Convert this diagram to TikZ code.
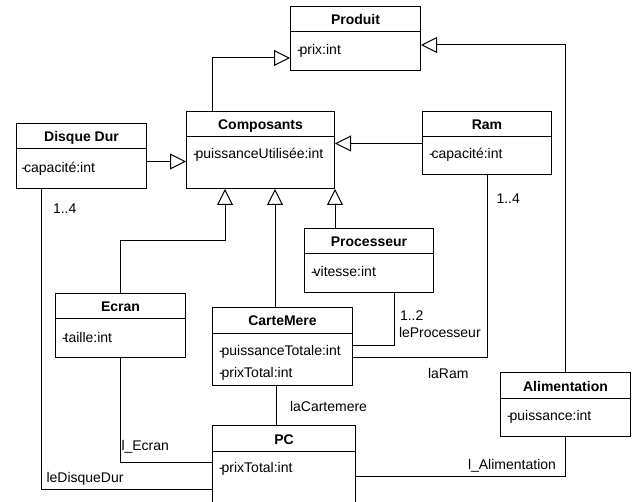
\documentclass[tikz,border=0pt]{standalone}
\usepackage{fontspec}
\setmainfont{Liberation Sans}
\usetikzlibrary{arrows.meta}

% private-visibility marker, drawn tight against the attribute name
\newcommand{\privvis}{-\kern-2pt}

% UML class: name, x, y (top left), width, height, title
\newcommand{\umlclass}[6]{%
  \node[classbox, minimum width=#4pt, minimum height=#5pt] (#1) at (#2,#3) {};
  \draw ([yshift=-26pt]#1.north west) -- ([yshift=-26pt]#1.north east);
  \node[classtitle] (#1-title) at ([yshift=-19pt]#1.north) {#6};
}

\begin{document}
\begin{tikzpicture}[x=1pt, y=-1pt, line width=1pt,
  classbox/.style={draw, rectangle, inner sep=0pt, anchor=north west},
  classtitle/.style={font=\fontsize{14}{16}\selectfont\bfseries, anchor=base, inner sep=0pt},
  attr/.style={font=\fontsize{14}{16}\selectfont, anchor=base west, inner sep=0pt},
  lbl/.style={font=\fontsize{14}{16}\selectfont, anchor=base west, inner sep=0pt},
  gen/.style={-{Triangle[open, fill=white, length=16pt, width=16pt]}}]

\useasboundingbox (0,0) rectangle (634,502);

% classes
\umlclass{prod}{290}{6}{130}{64}{Produit}
\node[attr] (prod-a1) at ([xshift=6.5pt,yshift=-49pt]prod.north west) {\privvis prix:int};

\umlclass{comp}{186}{111}{148}{77}{Composants}
\node[attr] (comp-a1) at ([xshift=6.5pt,yshift=-48pt]comp.north west) {\privvis puissanceUtilisée:int};

\umlclass{dd}{16}{123}{130}{65}{Disque Dur}
\node[attr] (dd-a1) at ([xshift=5pt,yshift=-50pt]dd.north west) {\privvis capacité:int};

\umlclass{ram}{422}{111}{129}{63}{Ram}
\node[attr] (ram-a1) at ([xshift=6.5pt,yshift=-48pt]ram.north west) {\privvis capacité:int};

\umlclass{proc}{304}{228}{129}{64}{Processeur}
\node[attr] (proc-a1) at ([xshift=6.5pt,yshift=-48.5pt]proc.north west) {\privvis vitesse:int};

\umlclass{ecran}{55}{293}{130}{64}{Ecran}
\node[attr] (ecran-a1) at ([xshift=6.5pt,yshift=-49pt]ecran.north west) {\privvis taille:int};

\umlclass{cm}{212}{307}{140}{78}{CarteMere}
\node[attr] (cm-a1) at ([xshift=6.5pt,yshift=-48.5pt]cm.north west) {\privvis puissanceTotale:int};
\node[attr] (cm-a2) at ([xshift=6.5pt,yshift=-70pt]cm.north west) {\privvis prixTotal:int};

\umlclass{pc}{212}{425}{143}{78}{PC}
\node[attr] (pc-a1) at ([xshift=6.5pt,yshift=-47.5pt]pc.north west) {\privvis prixTotal:int};

\umlclass{alim}{500}{372}{130}{64}{Alimentation}
\node[attr] (alim-a1) at ([xshift=6.5pt,yshift=-48pt]alim.north west) {\privvis puissance:int};

% generalisations
\draw[gen] ([xshift=26pt]comp.north west) |- ([yshift=-52pt]prod.north west);
\draw[gen] (alim.north) |- ([yshift=-39pt]prod.north east);
\coordinate (dd-g) at ([yshift=-38.5pt]dd.north east);
\draw[gen] (dd-g) -- (comp.west |- dd-g);
\coordinate (ram-g) at ([yshift=-32.5pt]ram.north west);
\draw[gen] (ram-g) -- (comp.east |- ram-g);
\draw[gen] (ecran.north) -- ++(0,-52.5) -| ([xshift=39pt]comp.south west);
\coordinate (cm-g) at ([xshift=63pt]cm.north west);
\draw[gen] (cm-g) -- (cm-g |- comp.south);
\draw[gen] (proc.north -| comp.south east) -- (comp.south east);

% associations
\draw ([xshift=90.5pt]proc.south west) |- ([yshift=-38pt]cm.north east);
\draw (ram.south) |- ([yshift=-50.5pt]cm.north east);
\coordinate (cm-pc) at ([xshift=64.5pt]cm.south west);
\draw (cm-pc) -- (cm-pc |- pc.north);
\draw (ecran.south) |- ([yshift=-37.5pt]pc.north west);
\draw ([xshift=25.5pt]dd.south west) |- ([yshift=-64pt]pc.north west);
\draw (alim.south) |- ([yshift=-51pt]pc.north east);

% role names and multiplicities
\node[lbl] (m-dd) at (52.5,213.3) {1..4};
\node[lbl] (m-ram) at (496,203.3) {1..4};
\node[lbl] (m-proc) at (399.5,320) {1..2};
\node[lbl] (r-proc) at (398.5,337.3) {leProcesseur};
\node[lbl] (r-ram) at (427.5,378.3) {laRam};
\node[lbl] (r-cm) at (289.5,411.7) {laCartemere};
\node[lbl] (r-ecran) at (121,450) {l\_Ecran};
\node[lbl] (r-dd) at (46,482.3) {leDisqueDur};
\node[lbl] (r-alim) at (467.5,469.3) {l\_Alimentation};

\end{tikzpicture}
\end{document}
